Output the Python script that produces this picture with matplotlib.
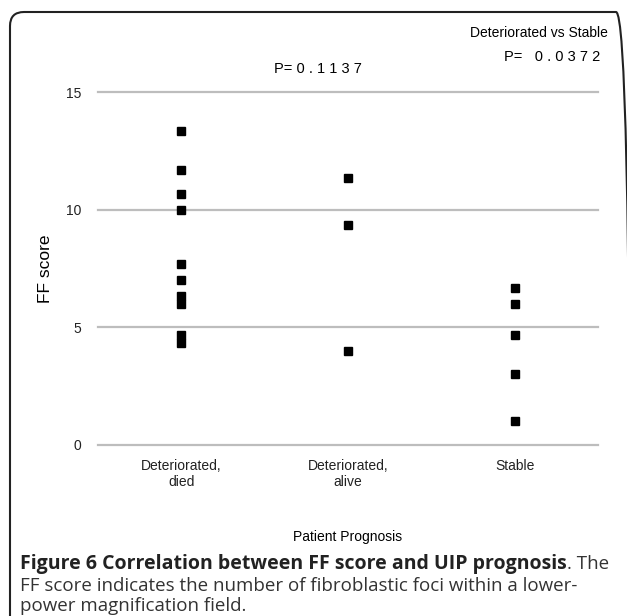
import matplotlib
matplotlib.use("Agg")
import matplotlib.pyplot as plt
from matplotlib.patches import FancyBboxPatch
from matplotlib.transforms import IdentityTransform

categories = ["Deteriorated,\ndied", "Deteriorated,\nalive", "Stable"]
died = [13.33, 11.67, 10.67, 10.0, 7.67, 7.0, 6.33, 6.0, 4.67, 4.33]
alive = [11.33, 9.33, 4.0]
stable = [6.67, 6.0, 4.67, 3.0, 1.0]
groups = [died, alive, stable]
yticks = [0, 5, 10, 15]

plt.rcParams['font.family'] = ['Liberation Sans', 'DejaVu Sans']

fig = plt.figure(figsize=(6.27, 6.16), dpi=100)
W, H = 627, 616
ax = fig.add_axes([98 / W, 1 - 445 / H, 500 / W, (445 - 92) / H])

for i, g in enumerate(groups):
    ax.plot([i] * len(g), g, linestyle='none', marker='s', markersize=6,
            color='black', clip_on=False, zorder=3)

ax.set_xlim(-0.5, 2.5)
ax.set_ylim(0, 15)
ax.set_yticks(yticks)
ax.set_yticklabels([str(t) for t in yticks], fontsize=10)
for t in yticks:
    ax.axhline(t, color='#bdbdbd', lw=1.6, zorder=1, clip_on=False)
ax.set_xticks(range(len(categories)))
ax.set_xticklabels(categories, fontsize=10, linespacing=1.15)
ax.tick_params(axis='both', length=0, colors='#222222')
ax.tick_params(axis='y', pad=12)
ax.tick_params(axis='x', pad=10)
for s in ax.spines.values():
    s.set_visible(False)
ax.set_ylabel("FF score", fontsize=12.5, labelpad=9)
ax.set_xlabel("Patient Prognosis", fontsize=10, labelpad=30)

fig.text(318 / W, 1 - 69 / H, "P= 0 . 1 1 3 7", fontsize=10.5, ha='center', va='center')
fig.text(608 / W, 1 - 33 / H, "Deteriorated vs Stable", fontsize=10, ha='right', va='center')
fig.text(600 / W, 1 - 57 / H, "P=   0 . 0 3 7 2", fontsize=10.5, ha='right', va='center')

cap_font = ['Open Sans', 'DejaVu Sans']
t1 = fig.text(20 / W, 1 - 564 / H, "Figure 6 Correlation between FF score and UIP prognosis",
              fontsize=14, fontweight='bold', family=cap_font, va='center', color='#222222')
fig.canvas.draw()
bb = t1.get_window_extent()
fig.text(bb.x1 / W, 1 - 564 / H, ". The", fontsize=13.5, family=cap_font, va='center', color='#333333')
fig.text(20 / W, 1 - 586 / H, "FF score indicates the number of fibroblastic foci within a lower-",
         fontsize=13.5, family=cap_font, va='center', color='#333333')
fig.text(20 / W, 1 - 606 / H, "power magnification field.",
         fontsize=13.5, family=cap_font, va='center', color='#333333')

box = FancyBboxPatch((10, -20), 620, H - 12 + 20,
                     boxstyle="round,pad=0,rounding_size=14",
                     transform=IdentityTransform(), fill=False, lw=1.5,
                     edgecolor='#222222', clip_on=False)
fig.patches.append(box)

fig.savefig("out.png", dpi=100)
